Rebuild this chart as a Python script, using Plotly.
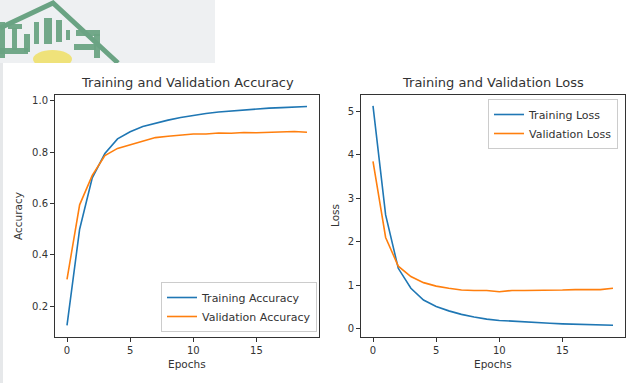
import plotly.graph_objects as go

epochs = list(range(20))

train_acc = [0.125, 0.50, 0.70, 0.795, 0.852, 0.88, 0.90, 0.913, 0.925, 0.935,
             0.944, 0.951, 0.957, 0.961, 0.965, 0.969, 0.972, 0.974, 0.976, 0.978]
val_acc = [0.305, 0.595, 0.71, 0.787, 0.815, 0.83, 0.845, 0.857, 0.862, 0.866,
           0.871, 0.871, 0.875, 0.874, 0.877, 0.876, 0.877, 0.878, 0.881, 0.878]

train_loss = [5.13, 2.62, 1.39, 0.93, 0.66, 0.51, 0.41, 0.33, 0.27, 0.22,
              0.19, 0.17, 0.155, 0.14, 0.124, 0.11, 0.10, 0.09, 0.085, 0.078]
val_loss = [3.85, 2.10, 1.44, 1.20, 1.06, 0.98, 0.93, 0.89, 0.88, 0.88,
            0.85, 0.88, 0.88, 0.88, 0.885, 0.89, 0.90, 0.90, 0.90, 0.93]

W, H = 629, 383
FONT = "DejaVu Sans"
BLUE = "#1f77b4"
ORANGE = "#ff7f0e"
INK = "#333333"
GREEN = "#6aa383"


def px(x):
    return x / W


def py(y):
    return 1 - y / H


fig = go.Figure()

fig.add_trace(go.Scatter(x=epochs, y=train_acc, name="Training Accuracy", mode="lines",
                         line=dict(color=BLUE, width=1.6), xaxis="x", yaxis="y", legend="legend"))
fig.add_trace(go.Scatter(x=epochs, y=val_acc, name="Validation Accuracy", mode="lines",
                         line=dict(color=ORANGE, width=1.6), xaxis="x", yaxis="y", legend="legend"))
fig.add_trace(go.Scatter(x=epochs, y=train_loss, name="Training Loss", mode="lines",
                         line=dict(color=BLUE, width=1.6), xaxis="x2", yaxis="y2", legend="legend2"))
fig.add_trace(go.Scatter(x=epochs, y=val_loss, name="Validation Loss", mode="lines",
                         line=dict(color=ORANGE, width=1.6), xaxis="x2", yaxis="y2", legend="legend2"))

axis_style = dict(showgrid=False, zeroline=False, showline=True, mirror=True,
                  linecolor=INK, linewidth=1, ticks="outside", ticklen=4,
                  tickcolor=INK, tickfont=dict(family=FONT, size=10, color=INK))

fig.update_layout(
    xaxis=dict(domain=[px(55), px(319)], range=[-0.95, 19.95], dtick=5, tick0=0,
               anchor="y", **axis_style),
    yaxis=dict(domain=[py(336.5), py(95)], range=[0.082, 1.023], dtick=0.2, tick0=0.2,
               tickformat=".1f", anchor="x", **axis_style),
    xaxis2=dict(domain=[px(361), px(625)], range=[-0.95, 19.95], dtick=5, tick0=0,
                anchor="y2", **axis_style),
    yaxis2=dict(domain=[py(336.5), py(95)], range=[-0.18, 5.38], dtick=1, tick0=0,
                anchor="x2", **axis_style),
)

legend_style = dict(bgcolor="rgba(255,255,255,0.9)", bordercolor="#cccccc", borderwidth=1,
                    font=dict(family=FONT, size=11, color=INK), itemwidth=30,
                    tracegroupgap=0)
fig.update_layout(
    legend=dict(x=px(317), y=py(332), xanchor="right", yanchor="bottom", **legend_style),
    legend2=dict(x=px(618), y=py(99), xanchor="right", yanchor="top", **legend_style),
)

# background of the page the chart was pasted onto, with the faint logo
shapes = [
    dict(type="rect", xref="paper", yref="paper", x0=0, x1=px(215), y0=py(63), y1=1,
         fillcolor="#eef0f2", line_width=0, layer="below"),
    dict(type="rect", xref="paper", yref="paper", x0=0, x1=px(3), y0=0, y1=py(63),
         fillcolor="#e6e8ea", line_width=0, layer="below"),
    dict(type="path", xref="paper", yref="paper",
         path=f"M {px(0)} {py(28)} L {px(53)} {py(3)} L {px(118)} {py(63)}",
         line=dict(color=GREEN, width=5), layer="below"),
    dict(type="circle", xref="paper", yref="paper", x0=px(33), x1=px(72), y0=py(68), y1=py(50),
         fillcolor="#efe27a", line_width=0, layer="below"),
]
for x0, y0, x1, y1 in [(0, 22, 5, 58), (8, 24, 22, 29), (12, 28, 17, 50), (24, 34, 30, 52),
                       (34, 22, 39, 44), (44, 18, 52, 44), (56, 20, 62, 42), (66, 30, 70, 40),
                       (76, 30, 100, 36), (94, 34, 100, 58), (74, 44, 96, 50), (0, 48, 28, 54)]:
    shapes.append(dict(type="rect", xref="paper", yref="paper", x0=px(x0), x1=px(x1),
                       y0=py(y1), y1=py(y0), fillcolor=GREEN, line_width=0,
                       layer="below", opacity=0.95))
shapes.append(dict(type="rect", xref="paper", yref="paper", x0=px(3), x1=1, y0=0, y1=py(63),
                   fillcolor="white", line_width=0, layer="below"))
fig.update_layout(shapes=shapes)

annotations = [
    dict(text="Training and Validation Accuracy", x=px(187), y=py(83)),
    dict(text="Training and Validation Loss", x=px(493), y=py(83)),
]
for a in annotations:
    a.update(font=dict(family=FONT, size=13, color=INK))
labels = [
    dict(text="Epochs", x=px(187), y=py(364)),
    dict(text="Epochs", x=px(493), y=py(364)),
    dict(text="Accuracy", x=px(18), y=py(216), textangle=-90),
    dict(text="Loss", x=px(335), y=py(216), textangle=-90),
]
for a in labels:
    a.update(font=dict(family=FONT, size=10.5, color=INK))
for a in annotations + labels:
    a.update(xref="paper", yref="paper", showarrow=False, xanchor="center", yanchor="middle")
fig.update_layout(annotations=annotations + labels)

fig.update_layout(width=W, height=H, margin=dict(l=0, r=0, t=0, b=0),
                  paper_bgcolor="white", plot_bgcolor="white")

fig.write_html("out.html", config={"displayModeBar": False},
               post_script="document.body.style.margin='0px';")
